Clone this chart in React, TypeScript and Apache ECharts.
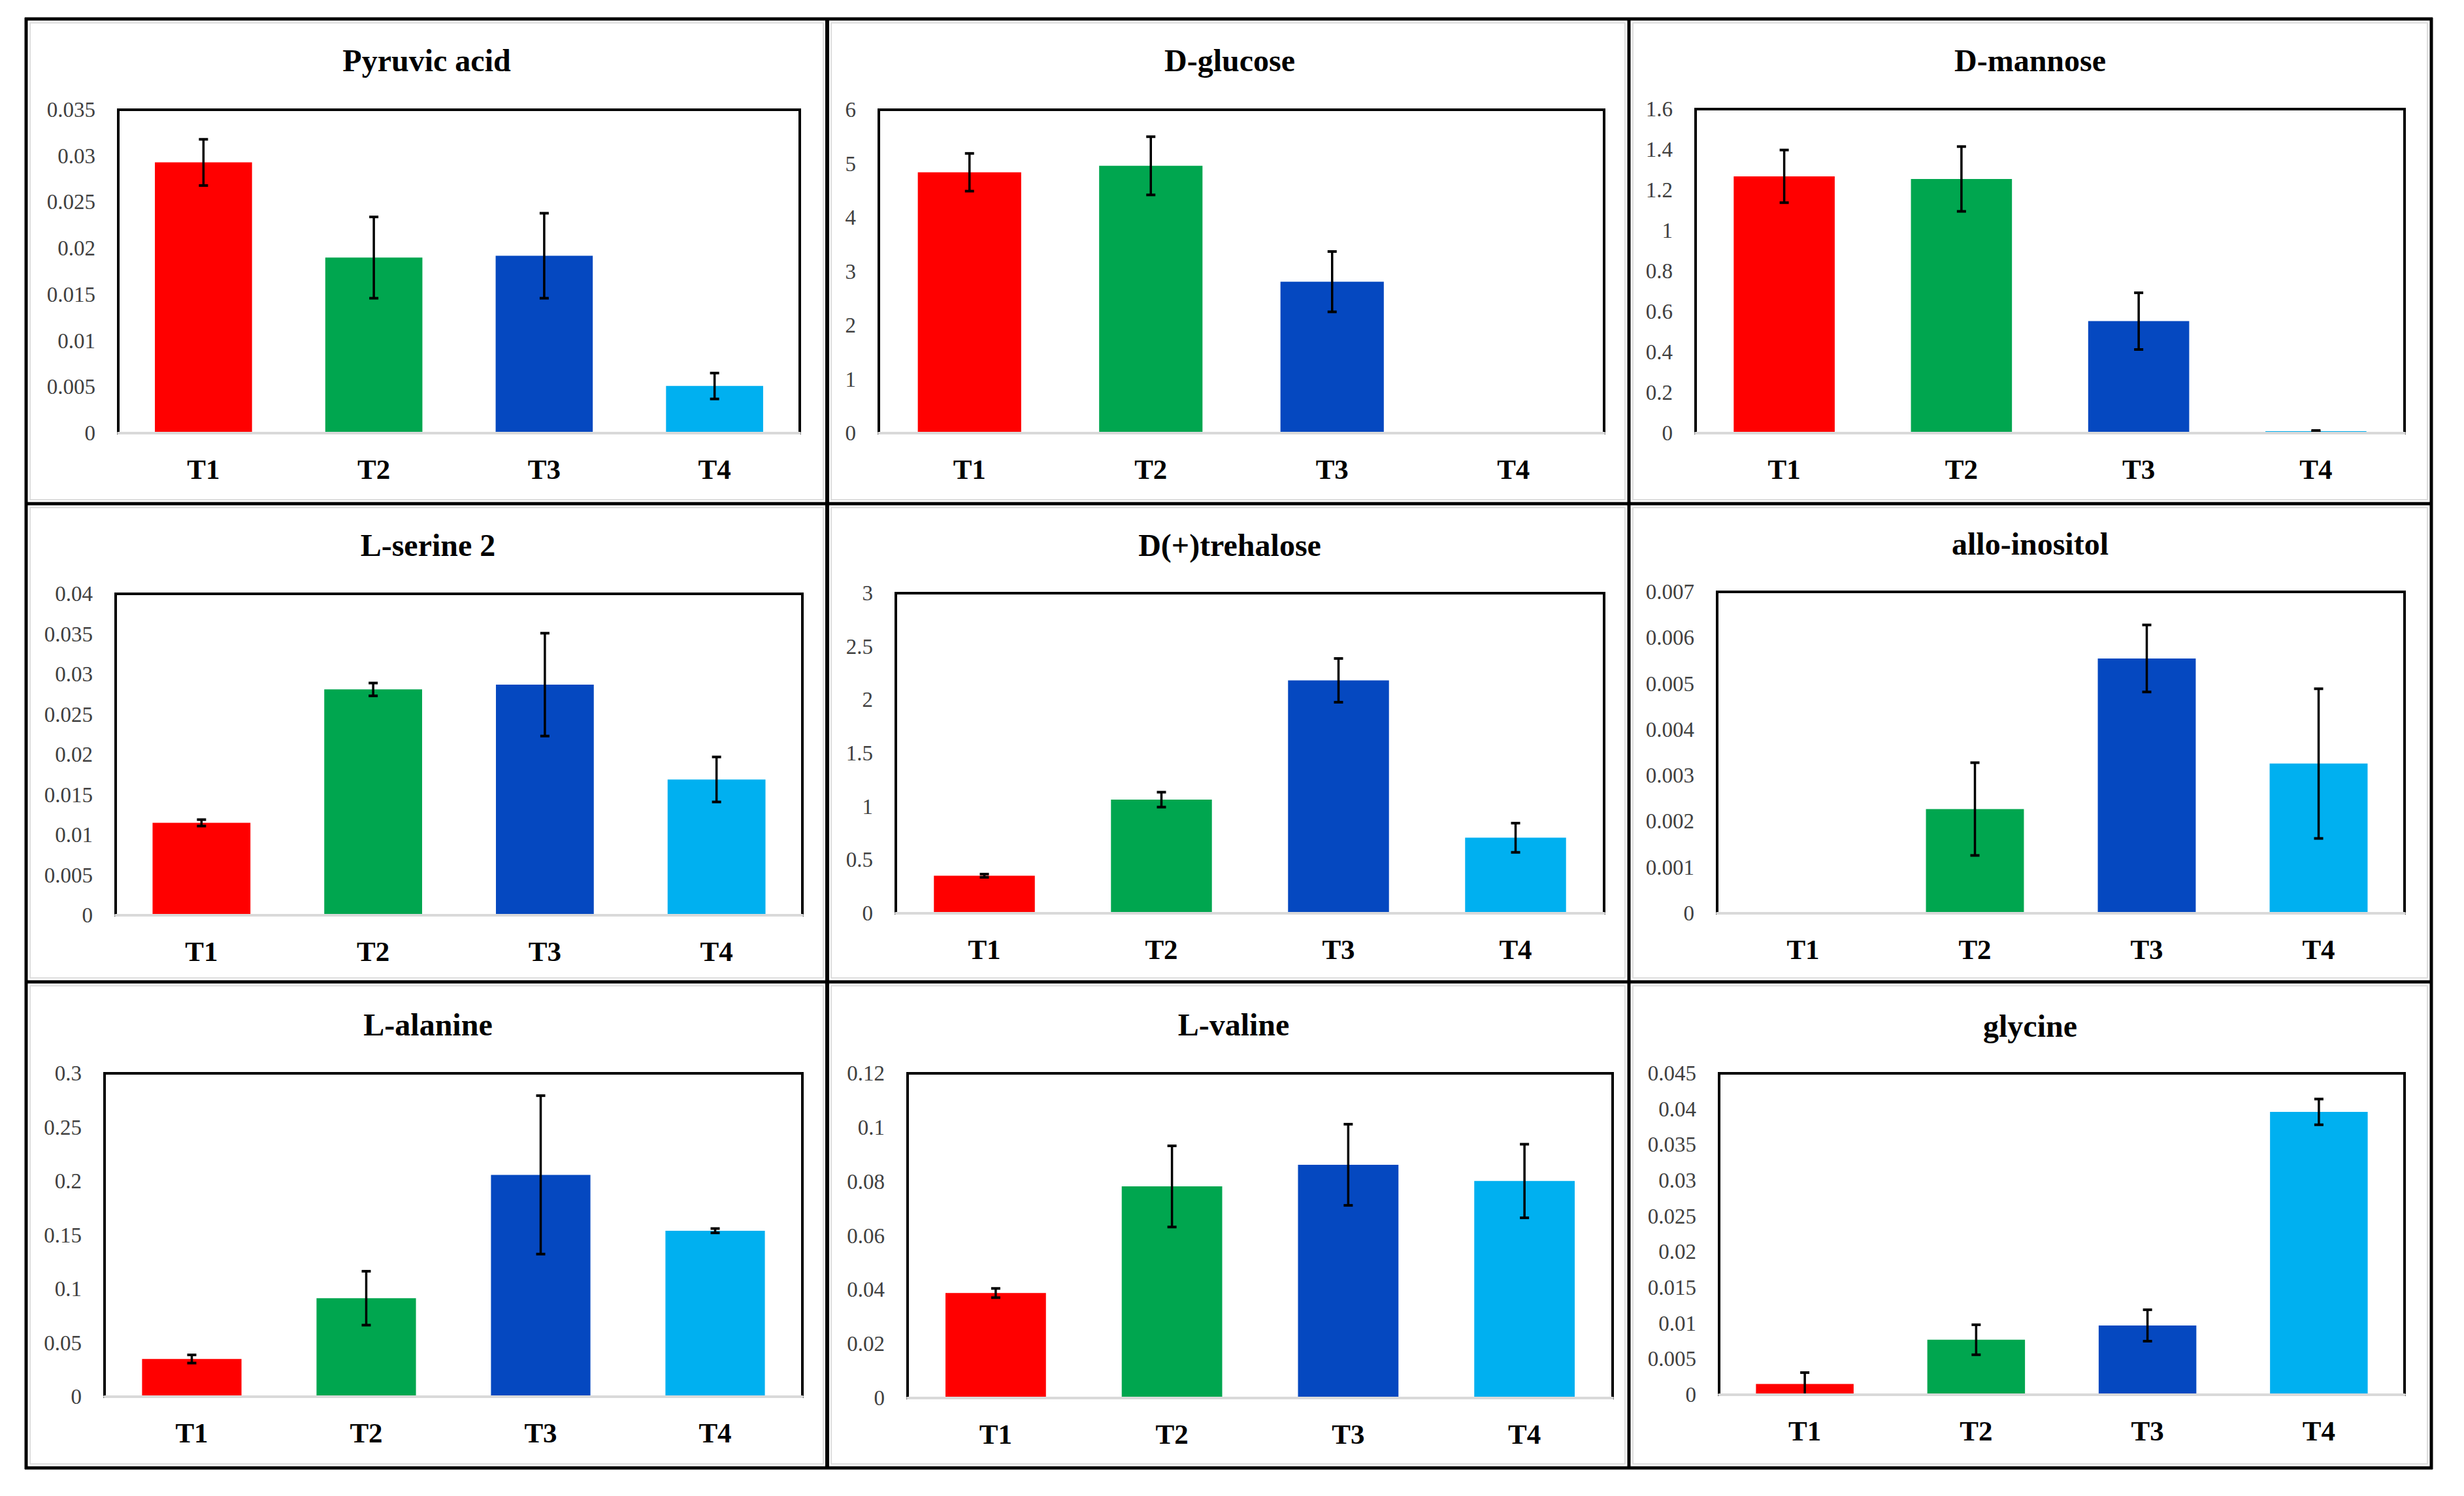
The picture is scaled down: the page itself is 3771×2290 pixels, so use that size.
import React, { useEffect, useRef } from "react";
import * as echarts from "echarts";

const categories = ["T1", "T2", "T3", "T4"];
const barColors = ["#FF0000", "#00A64F", "#0548C0", "#00B0F0"];

const panelTitles = [
  "Pyruvic acid",
  "D-glucose",
  "D-mannose",
  "L-serine 2",
  "D(+)trehalose",
  "allo-inositol",
  "L-alanine",
  "L-valine",
  "glycine",
];

const pyruvicAcid = [0.0293, 0.019, 0.0192, 0.0051];
const pyruvicAcidErr = [0.0025, 0.0044, 0.0046, 0.0014];
const dGlucose = [4.84, 4.96, 2.81, 0];
const dGlucoseErr = [0.35, 0.54, 0.56, 0];
const dMannose = [1.268, 1.255, 0.553, 0.01];
const dMannoseErr = [0.13, 0.16, 0.14, 0.003];
const lSerine2 = [0.0115, 0.0281, 0.0287, 0.0169];
const lSerine2Err = [0.0004, 0.0008, 0.0064, 0.0028];
const dTrehalose = [0.352, 1.065, 2.183, 0.708];
const dTrehaloseErr = [0.015, 0.07, 0.205, 0.137];
const alloInositol = [0, 0.00227, 0.00555, 0.00326];
const alloInositolErr = [0, 0.00101, 0.00073, 0.00163];
const lAlanine = [0.035, 0.0914, 0.2058, 0.154];
const lAlanineErr = [0.0038, 0.025, 0.0735, 0.002];
const lValine = [0.0388, 0.0782, 0.0862, 0.0802];
const lValineErr = [0.0017, 0.015, 0.015, 0.0136];
const glycine = [0.0015, 0.0077, 0.0097, 0.0396];
const glycineErr = [0.0016, 0.0021, 0.0022, 0.0018];

const panelValues = [pyruvicAcid, dGlucose, dMannose, lSerine2, dTrehalose, alloInositol, lAlanine, lValine, glycine];
const panelErrors = [pyruvicAcidErr, dGlucoseErr, dMannoseErr, lSerine2Err, dTrehaloseErr, alloInositolErr, lAlanineErr, lValineErr, glycineErr];

const yMax = [0.035, 6, 1.6, 0.04, 3, 0.007, 0.3, 0.12, 0.045];
const yStep = [0.005, 1, 0.2, 0.005, 0.5, 0.001, 0.05, 0.02, 0.005];

// layout (pixels): plot rectangles [left, top, right, bottom]
const plotRects = [
  [181, 168, 1224, 663],
  [1345, 168, 2455, 663],
  [2595, 167, 3680, 663],
  [177, 909, 1228, 1401],
  [1371, 908, 2455, 1398],
  [2628, 906, 3680, 1398],
  [160, 1643, 1228, 2138],
  [1389, 1643, 2468, 2140],
  [2631, 1643, 3680, 2135],
];
const titlePos = [
  [653, 92],
  [1882, 92],
  [3107, 92],
  [655, 834],
  [1882, 834],
  [3107, 832],
  [655, 1568],
  [1888, 1568],
  [3107, 1570],
];

const W = 3771;
const H = 2290;
const FONT = "Liberation Serif";

function fmt(v: number) {
  return String(Number(v.toFixed(6)));
}

export default function App() {
  const ref = useRef<HTMLDivElement>(null);

  useEffect(() => {
    document.body.style.margin = "0";
    const chart = echarts.init(ref.current!, undefined, { renderer: "svg" });

    const grid: any[] = [];
    const xAxis: any[] = [];
    const yAxis: any[] = [];
    const series: any[] = [];
    const title: any[] = [];

    panelTitles.forEach((t, k) => {
      const [l, tp, r, b] = plotRects[k];
      grid.push({
        left: l,
        top: tp,
        width: r - l,
        height: b - tp,
        show: true,
        borderColor: "#000",
        borderWidth: 4,
        backgroundColor: "transparent",
      });
      title.push({
        text: t,
        left: titlePos[k][0],
        top: titlePos[k][1],
        textAlign: "center",
        textVerticalAlign: "middle",
        padding: 0,
        textStyle: { fontFamily: FONT, fontWeight: "bold", fontSize: 48, color: "#000" },
      });
      xAxis.push({
        type: "category",
        gridIndex: k,
        data: categories,
        z: 10,
        axisLine: { show: true, lineStyle: { color: "#D9D9D9", width: 4 } },
        axisTick: { show: false },
        splitLine: { show: false },
        axisLabel: { fontFamily: FONT, fontWeight: "bold", fontSize: 43, color: "#000", margin: 34 },
      });
      yAxis.push({
        type: "value",
        gridIndex: k,
        min: 0,
        max: yMax[k],
        interval: yStep[k],
        axisLine: { show: false },
        axisTick: { show: false },
        splitLine: { show: false },
        axisLabel: { fontFamily: FONT, fontSize: 33, color: "#404040", margin: 35, formatter: fmt },
      });
      series.push({
        type: "bar",
        xAxisIndex: k,
        yAxisIndex: k,
        barWidth: "57%",
        data: panelValues[k].map((v, i) => ({ value: v, itemStyle: { color: barColors[i] } })),
      });
      series.push({
        type: "custom",
        xAxisIndex: k,
        yAxisIndex: k,
        z: 5,
        clip: true,
        encode: { x: 0, y: 1 },
        data: panelValues[k].map((v, i) => [i, v, panelErrors[k][i]]),
        renderItem: (params: any, api: any) => {
          const i = api.value(0);
          const v = api.value(1);
          const e = api.value(2);
          if (!e) return null;
          const top = api.coord([i, v + e]);
          const bot = api.coord([i, Math.max(0, v - e)]);
          const x = top[0];
          const cap = 7;
          const st = { stroke: "#000", lineWidth: 3.5 };
          return {
            type: "group",
            children: [
              { type: "line", shape: { x1: x, y1: top[1], x2: x, y2: bot[1] }, style: st },
              { type: "line", shape: { x1: x - cap, y1: top[1], x2: x + cap, y2: top[1] }, style: { stroke: "#000", lineWidth: 4 } },
              { type: "line", shape: { x1: x - cap, y1: bot[1], x2: x + cap, y2: bot[1] }, style: { stroke: "#000", lineWidth: 4 } },
            ],
          };
        },
      });
    });

    // panel frame
    const colsX = [40, 1266, 2493, 3721];
    const rowsY = [29, 771, 1503, 2247];
    const graphic: any[] = [];
    for (let c = 0; c < 3; c++) {
      for (let r = 0; r < 3; r++) {
        graphic.push({
          type: "rect",
          shape: { x: colsX[c] + 6, y: rowsY[r] + 6, width: colsX[c + 1] - colsX[c] - 12, height: rowsY[r + 1] - rowsY[r] - 12 },
          style: { fill: "none", stroke: "#DDDDDD", lineWidth: 2 },
          silent: true,
        });
      }
    }
    rowsY.forEach((y) => {
      graphic.push({ type: "line", shape: { x1: colsX[0] - 2, y1: y, x2: colsX[3] + 2, y2: y }, style: { stroke: "#000", lineWidth: 5 }, silent: true });
    });
    colsX.forEach((x, i) => {
      graphic.push({ type: "line", shape: { x1: x, y1: rowsY[0] - 2, x2: x, y2: rowsY[3] + 2 }, style: { stroke: "#000", lineWidth: i === 1 ? 6 : 5 }, silent: true });
    });

    chart.setOption({
      animation: false,
      backgroundColor: "#fff",
      title,
      grid,
      xAxis,
      yAxis,
      series,
      graphic,
    });

    return () => chart.dispose();
  }, []);

  return <div ref={ref} style={{ position: "fixed", left: 0, top: 0, width: W, height: H, background: "#fff" }} />;
}
